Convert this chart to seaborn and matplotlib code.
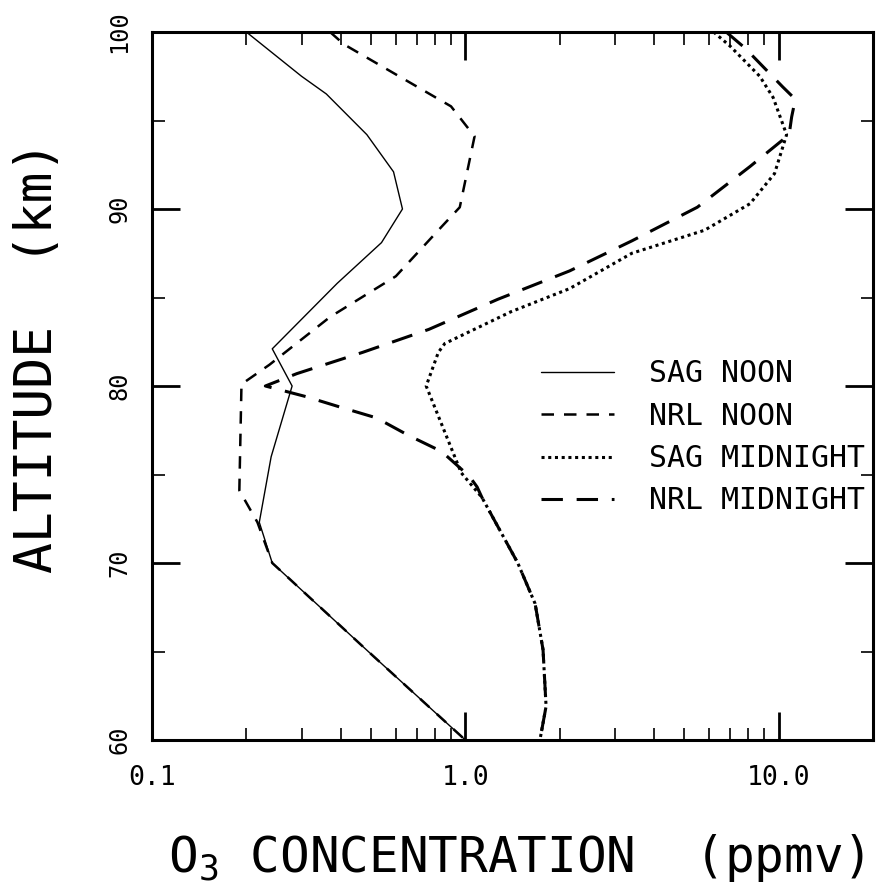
import matplotlib
matplotlib.use('Agg')
import matplotlib.pyplot as plt
import matplotlib.ticker as mticker
import seaborn as sns

sns.set_style("ticks")
plt.rcParams['font.family'] = ['DejaVu Sans Mono', 'DejaVu Sans']
plt.rcParams['mathtext.fontset'] = 'custom'
plt.rcParams['mathtext.rm'] = 'DejaVu Sans Mono'
plt.rcParams['mathtext.it'] = 'DejaVu Sans Mono'
plt.rcParams['text.color'] = 'black'
plt.rcParams['xtick.color'] = 'black'
plt.rcParams['ytick.color'] = 'black'

# profiles: altitude (km) and O3 mixing ratio (ppmv)
sag_noon_alt = [100, 97.5, 96.5, 94.2, 92.1, 90, 88.1, 85.8, 82.1, 80, 76, 72.3, 70, 65, 60]
sag_noon_ppmv = [0.20, 0.30, 0.36, 0.485, 0.59, 0.63, 0.54, 0.39, 0.242, 0.28, 0.24, 0.22, 0.242, 0.49, 1.0]

nrl_noon_alt = [100, 99.3, 95.8, 94.1, 90.1, 89.0, 86.2, 83.9, 81.2, 80.1, 74.1, 72.3, 70, 65, 60]
nrl_noon_ppmv = [0.37, 0.41, 0.90, 1.07, 0.96, 0.84, 0.60, 0.37, 0.237, 0.193, 0.19, 0.217, 0.242, 0.49, 1.0]

sag_mid_alt = [100, 99.2, 97.5, 96.3, 94.2, 92.0, 90.3, 88.8, 87.5, 85.5, 84.2, 82.4, 81.9, 80,
               75.1, 73.7, 70, 67.7, 65.1, 61.9, 60]
sag_mid_ppmv = [6.2, 7.0, 8.7, 9.6, 10.6, 9.7, 8.1, 5.8, 3.4, 2.15, 1.40, 0.86, 0.82, 0.75,
                0.97, 1.13, 1.47, 1.67, 1.77, 1.81, 1.73]

nrl_mid_alt = [100, 99.1, 96.9, 96.2, 95.2, 94.2, 92.4, 90.1, 88.2, 86.5, 84.9, 83.2, 81.9, 80.7,
               80.0, 79.4, 78.8, 78.2, 77.2, 76.3, 74.9, 74.3, 73.7, 70, 67.7, 65.1, 61.9, 60]
nrl_mid_ppmv = [6.8, 7.8, 10.3, 11.3, 11.0, 10.8, 8.1, 5.5, 3.4, 2.15, 1.27, 0.765, 0.47, 0.29,
                0.23, 0.31, 0.40, 0.52, 0.66, 0.84, 1.03, 1.09, 1.13, 1.47, 1.67, 1.77, 1.81, 1.73]

x_major = [0.1, 1.0, 10.0]
x_major_labels = ['0.1', '1.0', '10.0']
x_minor = [0.2, 0.3, 0.4, 0.5, 0.6, 0.7, 0.8, 0.9, 2, 3, 4, 5, 6, 7, 8, 9]
y_major = [60, 70, 80, 90, 100]
y_minor = [65, 75, 85, 95]

fig = plt.figure(figsize=(8.78, 8.92), dpi=100)
ax = fig.add_axes([152 / 878, 1 - 740 / 892, 721 / 878, 708 / 892])

sns.lineplot(x=sag_noon_ppmv, y=sag_noon_alt, sort=False, estimator=None, ax=ax,
             color='black', lw=1.0, linestyle='-', label='SAG NOON')
sns.lineplot(x=nrl_noon_ppmv, y=nrl_noon_alt, sort=False, estimator=None, ax=ax,
             color='black', lw=1.8, linestyle=(0, (5, 4)), label='NRL NOON')
sns.lineplot(x=sag_mid_ppmv, y=sag_mid_alt, sort=False, estimator=None, ax=ax,
             color='black', lw=2.2, linestyle=(0, (1, 1.2)), label='SAG MIDNIGHT')
sns.lineplot(x=nrl_mid_ppmv, y=nrl_mid_alt, sort=False, estimator=None, ax=ax,
             color='black', lw=2.2, linestyle=(0, (7, 4.5)), label='NRL MIDNIGHT')

ax.set_xscale('log')
ax.set_xlim(0.1, 20)
ax.set_ylim(60, 100)
ax.xaxis.set_major_locator(mticker.FixedLocator(x_major))
ax.xaxis.set_minor_locator(mticker.FixedLocator(x_minor))
ax.xaxis.set_minor_formatter(mticker.NullFormatter())
ax.set_xticklabels(x_major_labels, fontsize=19)
ax.yaxis.set_major_locator(mticker.FixedLocator(y_major))
ax.yaxis.set_minor_locator(mticker.FixedLocator(y_minor))
ax.set_yticklabels([str(v) for v in y_major], fontsize=17, rotation=90, va='center')

ax.tick_params(which='both', direction='in', top=True, right=True, colors='black')
ax.tick_params(which='major', length=20, width=2.0)
ax.tick_params(which='minor', length=9, width=1.2)
ax.tick_params(axis='x', which='major', pad=18)
ax.tick_params(axis='y', which='major', pad=15)
for sp in ax.spines.values():
    sp.set_linewidth(2.2)
    sp.set_color('black')

ax.set_xlabel('')
ax.set_ylabel('')
fig.text(516 / 878, 1 - 858 / 892, 'O$_3$ CONCENTRATION  (ppmv)', fontsize=35.5,
         ha='center', va='center')
fig.text(38 / 878, 1 - 357 / 892, 'ALTITUDE  (km)', fontsize=37, rotation=90,
         ha='center', va='center')

leg = ax.legend(loc='upper left', bbox_to_anchor=(0.54, 0.538), frameon=False,
                fontsize=21.5, handlelength=2.45, handletextpad=1.15,
                labelspacing=0.45, borderpad=0, borderaxespad=0)
for line in leg.get_lines():
    line.set_color('black')

fig.savefig('out.png', dpi=100)
plt.close(fig)
